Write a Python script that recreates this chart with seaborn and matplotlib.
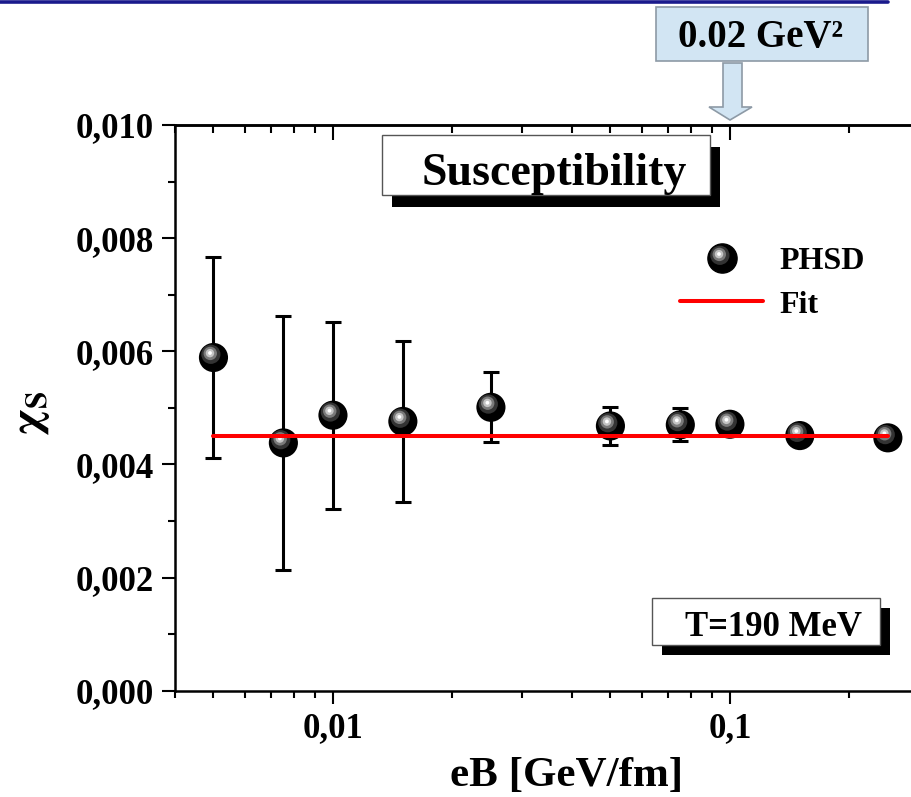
import numpy as np
import matplotlib
matplotlib.use("Agg")
import matplotlib.pyplot as plt
import seaborn as sns
from matplotlib.path import Path
from matplotlib.patches import Rectangle, Polygon
from matplotlib.lines import Line2D
from matplotlib.legend_handler import HandlerTuple
from matplotlib.ticker import FuncFormatter, MultipleLocator, LogLocator, NullFormatter

# data
eb = [0.005, 0.0075, 0.01, 0.015, 0.025, 0.05, 0.075, 0.1, 0.15, 0.25]
chi = [0.00589, 0.00438, 0.00487, 0.00476, 0.00501, 0.00468, 0.00470, 0.00471, 0.00451, 0.00447]
chi_err = [0.00177, 0.00225, 0.00165, 0.00143, 0.00062, 0.00034, 0.00029, 0.00012, 0.00010, 0.00007]
fit_x = [0.005, 0.25]
fit_y = [0.00450, 0.00450]

sns.set_style("ticks")
plt.rcParams["font.family"] = ["Liberation Serif", "DejaVu Serif"]
plt.rcParams["font.weight"] = "bold"
plt.rcParams["axes.labelweight"] = "bold"
plt.rcParams["mathtext.fontset"] = "stix"
for k in ["text.color", "axes.labelcolor", "xtick.color", "ytick.color", "axes.edgecolor"]:
    plt.rcParams[k] = "black"

W, H = 912, 797
def fx(x):
    return x / W
def fy(y):
    return 1 - y / H

fig = plt.figure(figsize=(W / 100, H / 100), dpi=100)
ax = fig.add_axes([fx(175), fy(690.7), fx(919.3) - fx(175), fy(125) - fy(690.7)])

# highlight layers for the "sphere" markers (offset circles as marker paths)
def hl_path(cx, cy, r):
    c = Path.circle((cx, cy), r)
    verts = np.vstack([c.vertices, [[1, 1], [-1, -1]]])
    codes = np.concatenate([c.codes, [Path.MOVETO, Path.MOVETO]])
    return Path(verts, codes)

layers = [(hl_path(-0.18, 0.22, 0.66), "#333333"),
          (hl_path(-0.22, 0.28, 0.46), "#7a7a7a"),
          (hl_path(-0.24, 0.30, 0.29), "#c4c4c4"),
          (hl_path(-0.24, 0.31, 0.13), "#ffffff")]
msize = 440

ax.errorbar(eb, chi, yerr=chi_err, fmt="none", ecolor="black", elinewidth=2.2,
            capsize=5.8, capthick=2.2, zorder=2)
sns.scatterplot(x=eb, y=chi, ax=ax, marker="o", s=msize, color="black",
                linewidth=0, edgecolor="none", zorder=3)
for i, (p, c) in enumerate(layers):
    sns.scatterplot(x=eb, y=chi, ax=ax, marker=p, s=msize, color=c,
                    linewidth=0, edgecolor="none", zorder=3.1 + i * 0.1)
sns.lineplot(x=fit_x, y=fit_y, ax=ax, color="#ff0000", linewidth=2.9, zorder=4)

ax.set_xscale("log")
ax.set_xlim(0.004, 0.3)
ax.set_ylim(0, 0.010)
ax.yaxis.set_major_locator(MultipleLocator(0.002))
ax.yaxis.set_minor_locator(MultipleLocator(0.001))
ax.yaxis.set_major_formatter(FuncFormatter(lambda v, p: f"{v:.3f}".replace(".", ",")))
ax.xaxis.set_major_locator(LogLocator(base=10))
ax.xaxis.set_minor_locator(LogLocator(base=10, subs=np.arange(2, 10)))
ax.xaxis.set_major_formatter(FuncFormatter(lambda v, p: f"{v:g}".replace(".", ",")))
ax.xaxis.set_minor_formatter(NullFormatter())

for s in ["left", "bottom", "top", "right"]:
    ax.spines[s].set_linewidth(1.8)
    ax.spines[s].set_color("black")
ax.tick_params(which="major", direction="out", length=9.4, width=1.5, labelsize=25,
               pad=6, colors="black")
ax.tick_params(which="minor", direction="out", length=5, width=1.5, colors="black")

top = ax.secondary_xaxis("top")
top.tick_params(which="major", direction="in", length=11, width=1.5, labeltop=False, colors="black")
top.tick_params(which="minor", direction="in", length=6, width=1.5, colors="black")
top.xaxis.set_minor_formatter(NullFormatter())
top.xaxis.set_major_formatter(NullFormatter())
top.spines["top"].set_linewidth(1.8)

ax.set_xlabel("eB [GeV/fm]", fontsize=31, fontweight="bold")
ax.xaxis.label.set_va("baseline")
ax.xaxis.set_label_coords((567 - 175) / 744.3, (690.7 - 786) / 565.7)
ax.set_ylabel(r"$\mathrm{χ}_{\mathrm{S}}$", fontsize=32, fontweight="normal")
ax.yaxis.set_label_coords((52 - 175) / 744.3, 0.49)

# legend
sphere = tuple([Line2D([], [], marker="o", color="black", markersize=21, linestyle="none")] +
               [Line2D([], [], marker=p, color=c, markersize=21, linestyle="none",
                       markeredgewidth=0) for p, c in layers])
fit_h = Line2D([], [], color="#ff0000", linewidth=2.9)
ax.legend([sphere, fit_h], ["PHSD", "Fit"], handler_map={tuple: HandlerTuple(ndivide=1, pad=0)},
          loc="center left", bbox_to_anchor=((680 - 175) / 744.3, (690.7 - 283) / 565.7),
          frameon=False, fontsize=23, handlelength=2.6, handletextpad=0.5,
          labelspacing=0.45, borderpad=0, borderaxespad=0)

# boxes with shadows
def shadow_box(x0, y0, x1, y1, dx, dy):
    fig.add_artist(Rectangle((fx(x0 + dx), fy(y1 + dy)), (x1 - x0) / W, (y1 - y0) / H,
                             transform=fig.transFigure, facecolor="black", edgecolor="none", zorder=5))
    fig.add_artist(Rectangle((fx(x0), fy(y1)), (x1 - x0) / W, (y1 - y0) / H,
                             transform=fig.transFigure, facecolor="white", edgecolor="#555555",
                             linewidth=1.0, zorder=6))

shadow_box(382, 135, 710, 195, 10, 12)
fig.text(fx(554), fy(185), "Susceptibility", ha="center", va="baseline", fontsize=33, zorder=7)
shadow_box(652, 598, 880, 645, 10, 10)
fig.text(fx(774), fy(636), "T=190 MeV", ha="center", va="baseline", fontsize=25, zorder=7)

# header line and the 0.02 GeV^2 marker
fig.add_artist(Line2D([0, fx(888)], [fy(1.5), fy(1.5)], transform=fig.transFigure,
                      color="#1a1a8c", linewidth=2.6, zorder=5))
fig.add_artist(Rectangle((fx(656), fy(61)), (868 - 656) / W, (61 - 7) / H,
                         transform=fig.transFigure, facecolor="#d2e5f3", edgecolor="#8d9aa6",
                         linewidth=1.2, zorder=6))
fig.text(fx(761), fy(47), "0.02 GeV²", ha="center", va="baseline", fontsize=28, zorder=7)
arrow_px = [(723, 63), (742, 63), (742, 107), (752, 107), (730, 120), (709, 107), (723, 107)]
fig.add_artist(Polygon([(fx(x), fy(y)) for x, y in arrow_px], closed=True,
                       transform=fig.transFigure, facecolor="#d2e5f3", edgecolor="#8d9aa6",
                       linewidth=1.2, zorder=6))

fig.savefig("out.png", dpi=100)
